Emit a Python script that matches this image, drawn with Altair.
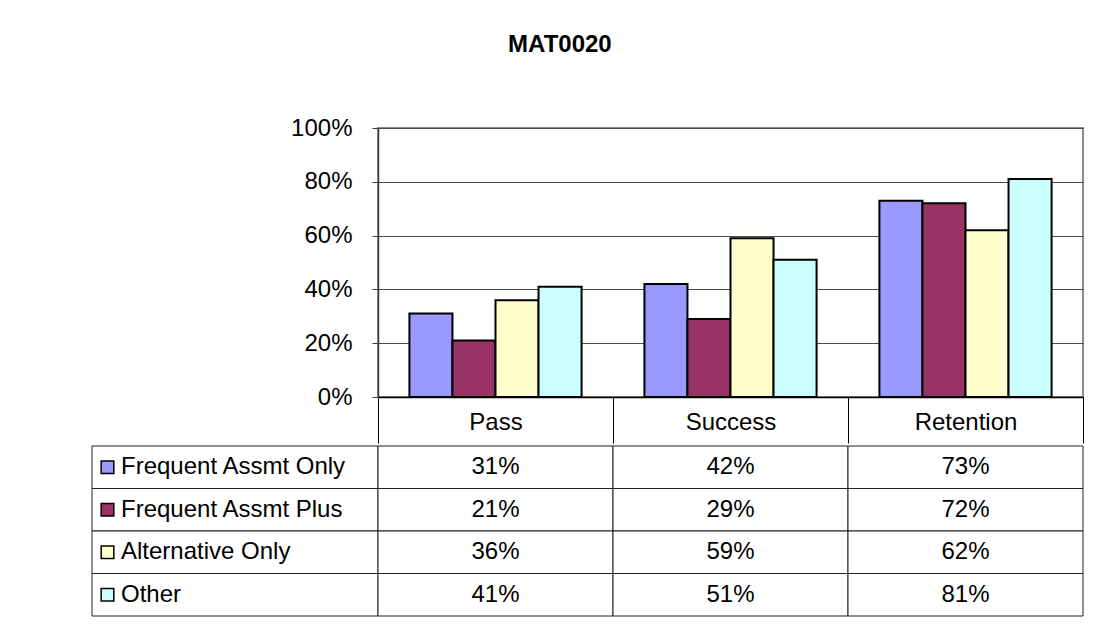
import altair as alt
import pandas as pd

# ---- data ----
categories = ["Pass", "Success", "Retention"]
series = ["Frequent Assmt Only", "Frequent Assmt Plus", "Alternative Only", "Other"]
colors = ["#9999FF", "#993366", "#FFFFCC", "#CCFFFF"]
pass_vals = [0.31, 0.21, 0.36, 0.41]
success_vals = [0.42, 0.29, 0.59, 0.51]
retention_vals = [0.73, 0.72, 0.62, 0.81]
y_ticks = [0, 0.2, 0.4, 0.6, 0.8, 1.0]
title_text = "MAT0020"

rows = []
for cat, vals in zip(categories, [pass_vals, success_vals, retention_vals]):
    for s, v in zip(series, vals):
        rows.append({"category": cat, "series": s, "value": v})
df = pd.DataFrame(rows)
key_df = pd.DataFrame({"series": series})

FONT = "Liberation Sans"
FS = 24
color_scale = alt.Scale(domain=series, range=colors)
no_frame = alt.ViewBackground(strokeOpacity=0)

# ---- bar chart ----
bars = alt.Chart(df).mark_bar(stroke="black", strokeWidth=2).encode(
    x=alt.X("category:N", sort=categories,
            scale=alt.Scale(paddingInner=0, paddingOuter=0),
            axis=alt.Axis(title=None, labelFont=FONT, labelFontSize=FS, labelColor="black",
                          labelAngle=0, tickBand="extent", tickSize=46, tickColor="black",
                          tickWidth=1, domainColor="black", domainWidth=1.5,
                          labelBaseline="alphabetic", labelPadding=-14)),
    xOffset=alt.XOffset("series:N", sort=series,
                        scale=alt.Scale(paddingInner=0, paddingOuter=0.73)),
    y=alt.Y("value:Q", scale=alt.Scale(domain=[0, 1]),
            axis=alt.Axis(title=None, values=y_ticks, format=".0%", labelFont=FONT,
                          labelFontSize=FS, labelColor="black", tickSize=6,
                          tickColor="#404040", domainColor="#404040", domainWidth=1.5,
                          labelPadding=20, grid=True, gridColor="#4a4a4a", gridWidth=1)),
    color=alt.Color("series:N", scale=color_scale, legend=None),
).properties(width=705, height=269,
             view=alt.ViewBackground(stroke="#8a8a8a", strokeWidth=2, strokeOpacity=1))

spacer = alt.Chart(key_df).mark_point(opacity=0).encode(
    x=alt.value(0), y=alt.value(0)
).properties(width=286, height=269, view=no_frame)

# ---- data table ----
band = alt.Scale(paddingInner=0, paddingOuter=0)
table_base = alt.Chart(df).encode(
    x=alt.X("category:N", sort=categories, scale=band, axis=None),
    y=alt.Y("series:N", sort=series, scale=band, axis=None),
)
cells = table_base.mark_rect(fill="white", stroke="#202020", strokeWidth=1)
texts = table_base.mark_text(font=FONT, fontSize=FS, color="black").encode(
    text=alt.Text("value:Q", format=".0%"))
table = alt.layer(cells, texts).properties(width=705, height=170, view=no_frame)

key_base = alt.Chart(key_df).encode(
    y=alt.Y("series:N", sort=series, scale=band, axis=None))
key_rect = key_base.mark_rect(fill="white", stroke="#202020", strokeWidth=1).encode(
    x=alt.value(0), x2=alt.value(286))
key_swatch = key_base.mark_square(size=160, stroke="black", strokeWidth=1.5, opacity=1).encode(
    x=alt.value(15.5),
    color=alt.Color("series:N", scale=color_scale, legend=None))
key_text = key_base.mark_text(align="left", font=FONT, fontSize=FS, color="black").encode(
    x=alt.value(29), text="series:N")
key = alt.layer(key_rect, key_swatch, key_text).properties(width=286, height=170, view=no_frame)

top = alt.hconcat(spacer, bars, spacing=0, bounds="flush")
bottom = alt.hconcat(key, table, spacing=0, bounds="flush")

chart = alt.vconcat(top, bottom, spacing=0).properties(
    title=alt.TitleParams(title_text, font=FONT, fontSize=24, fontWeight="bold",
                          color="black", anchor="middle", offset=58, dx=-27),
    padding={"left": 81, "top": 25, "right": 5, "bottom": 5},
).configure(background="white").configure_view(strokeOpacity=0)

chart.save("out.html", embed_options={"renderer": "svg", "actions": False})
